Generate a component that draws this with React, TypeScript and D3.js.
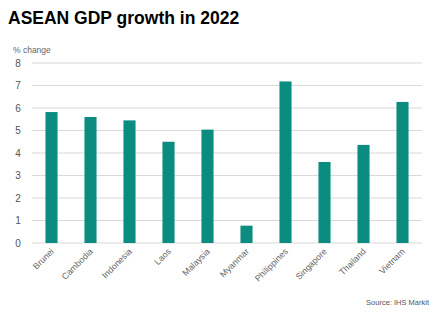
import React from "react";
import * as d3 from "d3";

const categories = ["Brunei", "Cambodia", "Indonesia", "Laos", "Malaysia", "Myanmar", "Philippines", "Singapore", "Thailand", "Vietnam"];
const values = [5.82, 5.6, 5.45, 4.5, 5.04, 0.77, 7.18, 3.6, 4.36, 6.27];
const yTicks = [0, 1, 2, 3, 4, 5, 6, 7, 8];

const W = 443, H = 322;
const left = 32, right = 422, top = 63, bottom = 243;

export default function App() {
  const x = d3.scaleBand<string>().domain(categories).range([left, right]).paddingInner(0.69).paddingOuter(0.345);
  const y = d3.scaleLinear().domain([0, 8]).range([bottom, top]);
  const font = "Arial, 'Liberation Sans', sans-serif";
  return (
    <svg width={W} height={H} style={{ position: "absolute", left: 0, top: 0, background: "#fff" }} fontFamily={font}>
      <text x={8} y={24} fontSize={17.5} fontWeight="bold" fill="#000">ASEAN GDP growth in 2022</text>
      <text x={13} y={53} fontSize={8.5} fill="#666">% change</text>
      {yTicks.map(t => (
        <g key={t}>
          <line x1={left} x2={right} y1={y(t)} y2={y(t)} stroke="#d9d9d9" strokeWidth={1} />
          <text x={18} y={y(t) + 3.5} fontSize={10} fill="#555" textAnchor="middle">{t}</text>
        </g>
      ))}
      {categories.map((c, i) => (
        <rect key={c} x={x(c)} y={y(values[i])} width={x.bandwidth()} height={bottom - y(values[i])} fill="#0b8c80" />
      ))}
      {categories.map(c => {
        const cx = (x(c) as number) + x.bandwidth() / 2 + 3;
        return (
          <text key={c} transform={`translate(${cx},${252}) rotate(-45)`} fontSize={8.8} fill="#666" textAnchor="end">{c}</text>
        );
      })}
      <text x={429} y={305} fontSize={7.5} fill="#555" textAnchor="end">Source: IHS Markit</text>
    </svg>
  );
}
